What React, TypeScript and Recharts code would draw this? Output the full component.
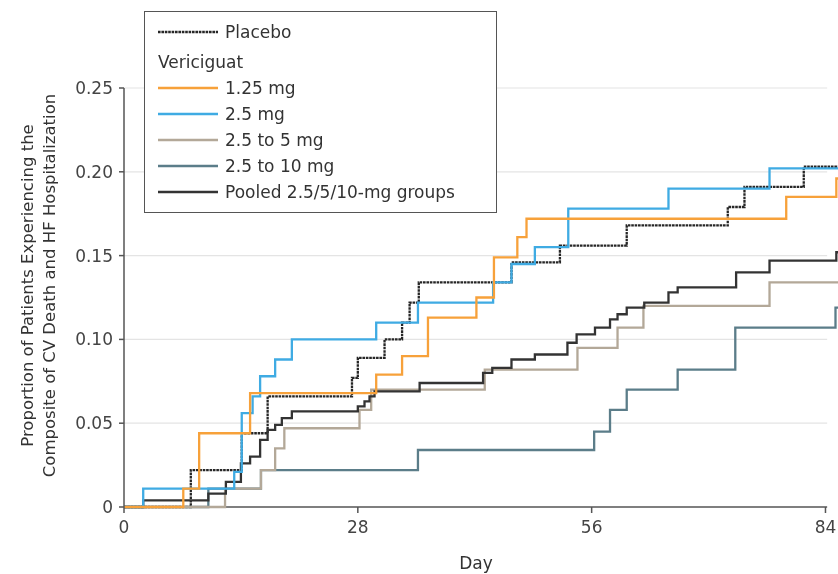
import { LineChart, Line, XAxis, YAxis, ReferenceLine } from 'recharts';

const FONT = '"DejaVu Sans", sans-serif';

// Kaplan-Meier style cumulative event proportions
const xTicks = [0, 28, 56, 84];
const yTicks = [0, 0.05, 0.1, 0.15, 0.2, 0.25];
const gridLevels = [0.05, 0.1, 0.15, 0.2, 0.25];

const placeboDays = [0, 8.0, 14.1, 17.2, 27.3, 28.0, 31.2, 33.3, 34.2, 35.3, 46.4, 52.2, 60.2, 72.3, 74.3, 81.4, 85.5];
const placeboRisk = [0, 0.022, 0.044, 0.066, 0.077, 0.089, 0.1, 0.11, 0.122, 0.134, 0.146, 0.156, 0.168, 0.179, 0.191, 0.203, 0.203];

const dose125Days = [0, 7.1, 9.0, 15.1, 30.2, 33.3, 36.4, 42.2, 44.3, 47.1, 48.2, 79.3, 85.3, 85.5];
const dose125Risk = [0, 0.011, 0.044, 0.068, 0.079, 0.09, 0.113, 0.125, 0.149, 0.161, 0.172, 0.185, 0.196, 0.196];

const dose25Days = [0, 2.3, 13.2, 14.1, 15.4, 16.3, 18.1, 20.1, 30.2, 35.2, 44.2, 46.4, 49.2, 53.2, 65.2, 77.3, 85.5];
const dose25Risk = [0, 0.011, 0.021, 0.056, 0.066, 0.078, 0.088, 0.1, 0.11, 0.122, 0.134, 0.145, 0.155, 0.178, 0.19, 0.202, 0.202];

const dose25to5Days = [0, 12.1, 16.4, 18.1, 19.2, 28.2, 29.6, 43.2, 54.3, 59.1, 62.2, 77.3, 85.5];
const dose25to5Risk = [0, 0.011, 0.022, 0.035, 0.047, 0.058, 0.07, 0.082, 0.095, 0.107, 0.12, 0.134, 0.134];

const dose25to10Days = [0, 10.1, 16.4, 35.2, 56.3, 58.2, 60.2, 66.3, 73.2, 85.2, 85.5];
const dose25to10Risk = [0, 0.011, 0.022, 0.034, 0.045, 0.058, 0.07, 0.082, 0.107, 0.119, 0.119];

const pooledDays = [0, 2.3, 10.1, 12.2, 14.0, 15.1, 16.3, 17.2, 18.1, 18.9, 20.1, 28.0, 28.8, 29.4, 30.0, 35.4, 43.0, 44.1, 46.4, 49.2, 53.1, 54.2, 56.4, 58.2, 59.1, 60.2, 62.3, 65.2, 66.3, 73.3, 77.3, 85.3, 85.5];
const pooledRisk = [0, 0.004, 0.008, 0.015, 0.026, 0.03, 0.04, 0.046, 0.049, 0.053, 0.057, 0.06, 0.063, 0.066, 0.069, 0.074, 0.08, 0.083, 0.088, 0.091, 0.098, 0.103, 0.107, 0.112, 0.115, 0.119, 0.122, 0.128, 0.131, 0.14, 0.147, 0.152, 0.152];

const COLORS = {
    placebo: '#262626',
    dose125: '#f7a13a',
    dose25: '#3fabe3',
    dose25to5: '#b3a898',
    dose25to10: '#5b7d89',
    pooled: '#333333',
};

const PLACEBO_DASH = '2.6 0.8';

const toPoints = (days: number[], risk: number[]) => days.map((d, i) => ({ day: d, risk: risk[i] }));

const series = [
    { key: 'placebo', name: 'Placebo', data: toPoints(placeboDays, placeboRisk), color: COLORS.placebo, dash: PLACEBO_DASH },
    { key: 'dose25to10', name: '2.5 to 10 mg', data: toPoints(dose25to10Days, dose25to10Risk), color: COLORS.dose25to10 },
    { key: 'dose25to5', name: '2.5 to 5 mg', data: toPoints(dose25to5Days, dose25to5Risk), color: COLORS.dose25to5 },
    { key: 'pooled', name: 'Pooled 2.5/5/10-mg groups', data: toPoints(pooledDays, pooledRisk), color: COLORS.pooled },
    { key: 'dose25', name: '2.5 mg', data: toPoints(dose25Days, dose25Risk), color: COLORS.dose25 },
    { key: 'dose125', name: '1.25 mg', data: toPoints(dose125Days, dose125Risk), color: COLORS.dose125 },
];

const legendRows = [
    { label: 'Placebo', color: COLORS.placebo, dash: PLACEBO_DASH },
    { label: 'Vericiguat', heading: true },
    { label: '1.25 mg', color: COLORS.dose125 },
    { label: '2.5 mg', color: COLORS.dose25 },
    { label: '2.5 to 5 mg', color: COLORS.dose25to5 },
    { label: '2.5 to 10 mg', color: COLORS.dose25to10 },
    { label: 'Pooled 2.5/5/10-mg groups', color: COLORS.pooled },
];

function LegendBox() {
    return (
        <div
            style={{
                position: 'absolute',
                left: 136,
                top: 3,
                width: 353,
                height: 202,
                boxSizing: 'border-box',
                border: '1.5px solid #555',
                background: '#fff',
                padding: '7px 0 0 13px',
                fontFamily: FONT,
                fontSize: 17,
                color: '#333',
            }}
        >
            {legendRows.map((row, i) => (
                <div
                    key={i}
                    style={{ display: 'flex', alignItems: 'center', height: 26, marginTop: row.heading ? 4 : 0 }}
                >
                    {!row.heading && (
                        <svg width={60} height={4} style={{ marginRight: 7 }}>
                            <line x1={0} y1={2} x2={60} y2={2} stroke={row.color} strokeWidth={2.5} strokeDasharray={row.dash} />
                        </svg>
                    )}
                    <span>{row.label}</span>
                </div>
            ))}
        </div>
    );
}

function YTitle({ viewBox }: any) {
    const cy = viewBox.y + viewBox.height / 2 - 12;
    const lines = ['Proportion of Patients Experiencing the', 'Composite of CV Death and HF Hospitalization'];
    return (
        <g>
            {lines.map((t, i) => {
                const x = 19 + i * 22;
                return (
                    <text
                        key={i}
                        x={x}
                        y={cy}
                        transform={`rotate(-90, ${x}, ${cy})`}
                        textAnchor="middle"
                        dominantBaseline="central"
                        fontFamily={FONT}
                        fontSize={16.5}
                        fill="#333"
                    >
                        {t}
                    </text>
                );
            })}
        </g>
    );
}

function DayLabel({ viewBox }: any) {
    return (
        <text x={viewBox.x + 352} y={viewBox.y + 62} textAnchor="middle" fontFamily={FONT} fontSize={17} fill="#333">
            Day
        </text>
    );
}

export default function App() {
    // fixed so the 830x566 chart fills the window without triggering scrollbars
    return (
        <div style={{ position: 'fixed', left: 8, top: 8, width: 830, height: 566 }}>
            <LineChart width={830} height={566} margin={{ top: 80, right: 0, bottom: 0, left: 0 }}>
                <XAxis
                    type="number"
                    dataKey="day"
                    domain={[0, 85.5]}
                    ticks={xTicks}
                    axisLine={false}
                    tickLine={{ stroke: '#555', strokeWidth: 1.5 }}
                    tickSize={6}
                    tickMargin={8}
                    height={67}
                    tick={{ fill: '#444', fontSize: 17, fontFamily: FONT }}
                    label={{ content: DayLabel }}
                />
                <YAxis
                    type="number"
                    domain={[0, 0.25]}
                    ticks={yTicks}
                    width={116}
                    axisLine={{ stroke: '#555', strokeWidth: 1.5 }}
                    tickLine={{ stroke: '#555', strokeWidth: 1.5 }}
                    tickSize={5}
                    tickMargin={6}
                    tickFormatter={(v: number) => (v === 0 ? '0' : v.toFixed(2))}
                    tick={{ fill: '#444', fontSize: 17, fontFamily: FONT }}
                    label={{ content: YTitle }}
                />
                {gridLevels.map((g) => (
                    <ReferenceLine
                        key={g}
                        segment={[{ x: 0, y: g }, { x: 84.2, y: g }]}
                        stroke="#e4e4e4"
                        strokeWidth={1.2}
                    />
                ))}
                <ReferenceLine segment={[{ x: 0, y: 0 }, { x: 84.2, y: 0 }]} stroke="#555" strokeWidth={1.5} />
                {series.map((s) => (
                    <Line
                        key={s.key}
                        data={s.data}
                        dataKey="risk"
                        name={s.name}
                        type="stepAfter"
                        stroke={s.color}
                        strokeWidth={2.3}
                        strokeDasharray={s.dash}
                        dot={false}
                        activeDot={false}
                        isAnimationActive={false}
                    />
                ))}
            </LineChart>
            <LegendBox />
        </div>
    );
}
